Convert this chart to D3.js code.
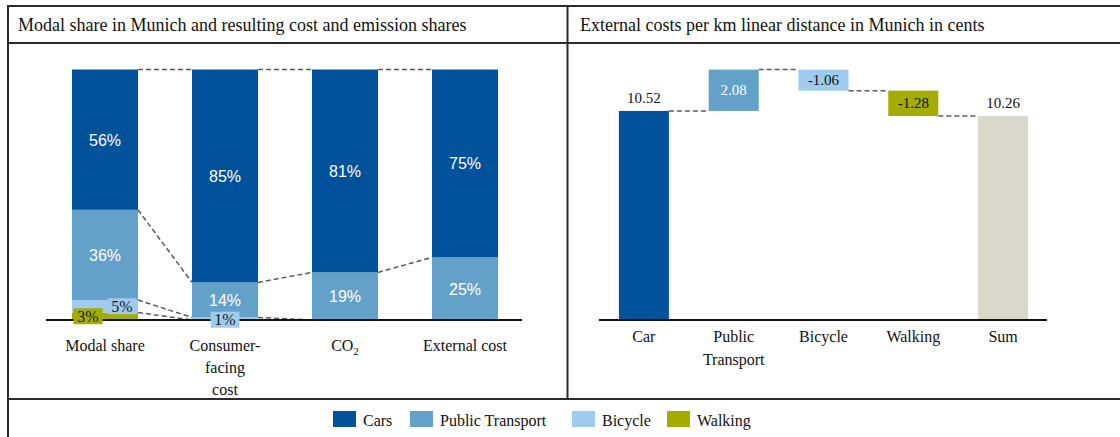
<!DOCTYPE html>
<html>
<head>
<meta charset="utf-8">
<script src="https://cdn.jsdelivr.net/npm/d3@7"></script>
<style>
  body { margin: 0; background: #fff; }
  svg { display: block; }
</style>
</head>
<body>
<div id="chart"></div>
<script>
/* ---------------------------------------------------------------
   DATA
---------------------------------------------------------------- */
const modes = ["Cars", "Public Transport", "Bicycle", "Walking"];
const modeColors = ["#01529a", "#64a1c9", "#9ecbee", "#a3ac00"];

const shareCats = ["Modal share", "Consumer-facing cost", "CO2", "External cost"];
const shareLabels = [["Modal share"], ["Consumer-", "facing", "cost"], ["CO2"], ["External cost"]];
const carShare = [56, 85, 81, 75];
const ptShare = [36, 14, 19, 25];
const bikeShare = [5, 1, 0, 0];
const walkShare = [3, 0, 0, 0];

const costCats = ["Car", "Public Transport", "Bicycle", "Walking", "Sum"];
const costLabels = [["Car"], ["Public", "Transport"], ["Bicycle"], ["Walking"], ["Sum"]];
const costValues = [10.52, 2.08, -1.06, -1.28, 10.26];
const costColors = ["#01529a", "#64a1c9", "#9ecbee", "#a3ac00", "#dad8cb"];

/* ---------------------------------------------------------------
   SETUP
---------------------------------------------------------------- */
const W = 1120, H = 437;
const serif = "'Liberation Serif', 'Times New Roman', serif";
const sans = "'Liberation Sans', Arial, sans-serif";

const svg = d3.select("#chart").append("svg")
  .attr("width", W).attr("height", H);

// frame
const frame = svg.append("g").attr("stroke", "#2b2b2b").attr("stroke-width", 2);
frame.append("line").attr("x1", 8).attr("x2", W).attr("y1", 6).attr("y2", 6);
frame.append("line").attr("x1", 8).attr("x2", W).attr("y1", 43).attr("y2", 43);
frame.append("line").attr("x1", 8).attr("x2", W).attr("y1", 399).attr("y2", 399);
frame.append("line").attr("x1", 8).attr("x2", 8).attr("y1", 5).attr("y2", H);
frame.append("line").attr("x1", 567.5).attr("x2", 567.5).attr("y1", 5).attr("y2", 399);

svg.append("text").attr("x", 18).attr("y", 31)
  .style("font-family", serif).style("font-size", "18px").attr("fill", "#111")
  .text("Modal share in Munich and resulting cost and emission shares");
svg.append("text").attr("x", 580).attr("y", 31)
  .style("font-family", serif).style("font-size", "18px").attr("fill", "#111")
  .text("External costs per km linear distance in Munich in cents");

/* ---------------------------------------------------------------
   LEFT: STACKED 100% BARS
---------------------------------------------------------------- */
const xL = d3.scaleBand().domain(shareCats).range([45, 525])
  .paddingInner(0.45).paddingOuter(0.225);
const yL = d3.scaleLinear().domain([0, 100]).range([320, 69.5]);

const rows = shareCats.map((c, i) => ({
  cat: c, Cars: carShare[i], "Public Transport": ptShare[i],
  Bicycle: bikeShare[i], Walking: walkShare[i]
}));
// walking at bottom, cars on top
const stack = d3.stack().keys(modes.slice().reverse())(rows);

const left = svg.append("g");

// dashed connectors between neighbouring bars
const levels = rows.map(r => [0, r.Cars, r.Cars + r["Public Transport"],
  r.Cars + r["Public Transport"] + r.Bicycle]);
for (let i = 0; i < rows.length - 1; i++) {
  levels[i].forEach((lv, k) => {
    left.append("line")
      .attr("x1", xL(shareCats[i]) + xL.bandwidth())
      .attr("x2", xL(shareCats[i + 1]))
      .attr("y1", yL(100 - lv))
      .attr("y2", yL(100 - levels[i + 1][k]))
      .attr("stroke", "#5a5a5a").attr("stroke-width", 1.5)
      .attr("stroke-dasharray", "5,3");
  });
}

stack.forEach(layer => {
  const color = modeColors[modes.indexOf(layer.key)];
  left.append("g").selectAll("rect").data(layer).join("rect")
    .attr("x", d => xL(d.data.cat))
    .attr("width", xL.bandwidth())
    .attr("y", d => yL(d[1]))
    .attr("height", d => yL(d[0]) - yL(d[1]))
    .attr("fill", color);
});

left.append("line").attr("x1", 46).attr("x2", 522)
  .attr("y1", 320).attr("y2", 320)
  .attr("stroke", "#111").attr("stroke-width", 2);

// segment labels (small ones get a coloured tag on top of the baseline)
stack.forEach(layer => {
  const color = modeColors[modes.indexOf(layer.key)];
  layer.forEach(d => {
    const v = d[1] - d[0];
    if (v <= 0) return;
    const cx = xL(d.data.cat) + xL.bandwidth() / 2;
    const cy = (yL(d[0]) + yL(d[1])) / 2;
    if (v >= 10) {
      left.append("text").attr("x", cx).attr("y", cy + 6)
        .attr("text-anchor", "middle").attr("fill", "#fff")
        .style("font-family", sans).style("font-size", "16px")
        .text(v + "%");
    } else {
      let dx = 0;
      if (layer.key === "Walking") dx = -17;
      else if (d.data.Walking > 0) dx = 17;
      const bx = cx + dx, by = cy + (dx === 0 ? 1 : 0);
      left.append("rect").attr("x", bx - 14.5).attr("y", by - 8)
        .attr("width", 29).attr("height", 16).attr("fill", color);
      left.append("text").attr("x", bx).attr("y", by + 5.5)
        .attr("text-anchor", "middle").attr("fill", "#1a1a1a")
        .style("font-family", serif).style("font-size", "16px")
        .text(v + "%");
    }
  });
});

// category labels
shareLabels.forEach((lines, i) => {
  const t = left.append("text")
    .attr("text-anchor", "middle")
    .style("font-family", serif).style("font-size", "16px").attr("fill", "#111");
  lines.forEach((ln, j) => {
    const y = 351 + j * 22;
    const x = xL(shareCats[i]) + xL.bandwidth() / 2;
    if (ln === "CO2") {
      const s = t.append("tspan").attr("x", x).attr("y", y);
      s.append("tspan").text("CO");
      s.append("tspan").attr("dy", 4).style("font-size", "11px").text("2");
    } else {
      t.append("tspan").attr("x", x).attr("y", y).text(ln);
    }
  });
});

/* ---------------------------------------------------------------
   RIGHT: WATERFALL
---------------------------------------------------------------- */
const xR = d3.scaleBand().domain(costCats).range([599, 1048])
  .paddingInner(0.443).paddingOuter(0.2215);
const yR = d3.scaleLinear().domain([0, 12.6]).range([320, 69.6]);

let run = 0;
const steps = costCats.map((c, i) => {
  const v = costValues[i];
  let a, b;
  if (i === 0 || i === costCats.length - 1) { a = 0; b = v; run = v; }
  else { a = run; b = run + v; run = b; }
  return { cat: c, v, lo: Math.min(a, b), hi: Math.max(a, b), end: b, color: costColors[i] };
});

const right = svg.append("g");

for (let i = 0; i < steps.length - 1; i++) {
  right.append("line")
    .attr("x1", xR(steps[i].cat) + xR.bandwidth())
    .attr("x2", xR(steps[i + 1].cat))
    .attr("y1", yR(steps[i].end)).attr("y2", yR(steps[i].end))
    .attr("stroke", "#5a5a5a").attr("stroke-width", 1.5)
    .attr("stroke-dasharray", "5,3");
}

right.selectAll("rect.bar").data(steps).join("rect")
  .attr("class", "bar")
  .attr("x", d => xR(d.cat))
  .attr("width", xR.bandwidth())
  .attr("y", d => yR(d.hi))
  .attr("height", d => yR(d.lo) - yR(d.hi))
  .attr("fill", d => d.color);

steps.forEach((d, i) => {
  const cx = xR(d.cat) + xR.bandwidth() / 2;
  const total = i === 0 || i === steps.length - 1;
  const y = total ? yR(d.hi) - 8 : (yR(d.lo) + yR(d.hi)) / 2 + 5;
  right.append("text").attr("x", cx).attr("y", y)
    .attr("text-anchor", "middle")
    .attr("fill", d.cat === "Public Transport" ? "#fff" : "#111")
    .style("font-family", serif).style("font-size", "15px")
    .text(d.v.toFixed(2));
});

right.append("line").attr("x1", 599).attr("x2", 1047)
  .attr("y1", 320).attr("y2", 320)
  .attr("stroke", "#111").attr("stroke-width", 2);

costLabels.forEach((lines, i) => {
  const t = right.append("text").attr("text-anchor", "middle")
    .style("font-family", serif).style("font-size", "16px").attr("fill", "#111");
  lines.forEach((ln, j) => {
    t.append("tspan").attr("x", xR(costCats[i]) + xR.bandwidth() / 2)
      .attr("y", 342 + j * 23).text(ln);
  });
});

/* ---------------------------------------------------------------
   LEGEND
---------------------------------------------------------------- */
const legendX = [333, 410, 572, 667];
const legend = svg.append("g");
modes.forEach((m, i) => {
  legend.append("rect").attr("x", legendX[i]).attr("y", 411)
    .attr("width", 23).attr("height", 16).attr("fill", modeColors[i]);
  legend.append("text").attr("x", legendX[i] + 30).attr("y", 426)
    .style("font-family", serif).style("font-size", "16px").attr("fill", "#111")
    .text(m);
});
</script>
</body>
</html>
